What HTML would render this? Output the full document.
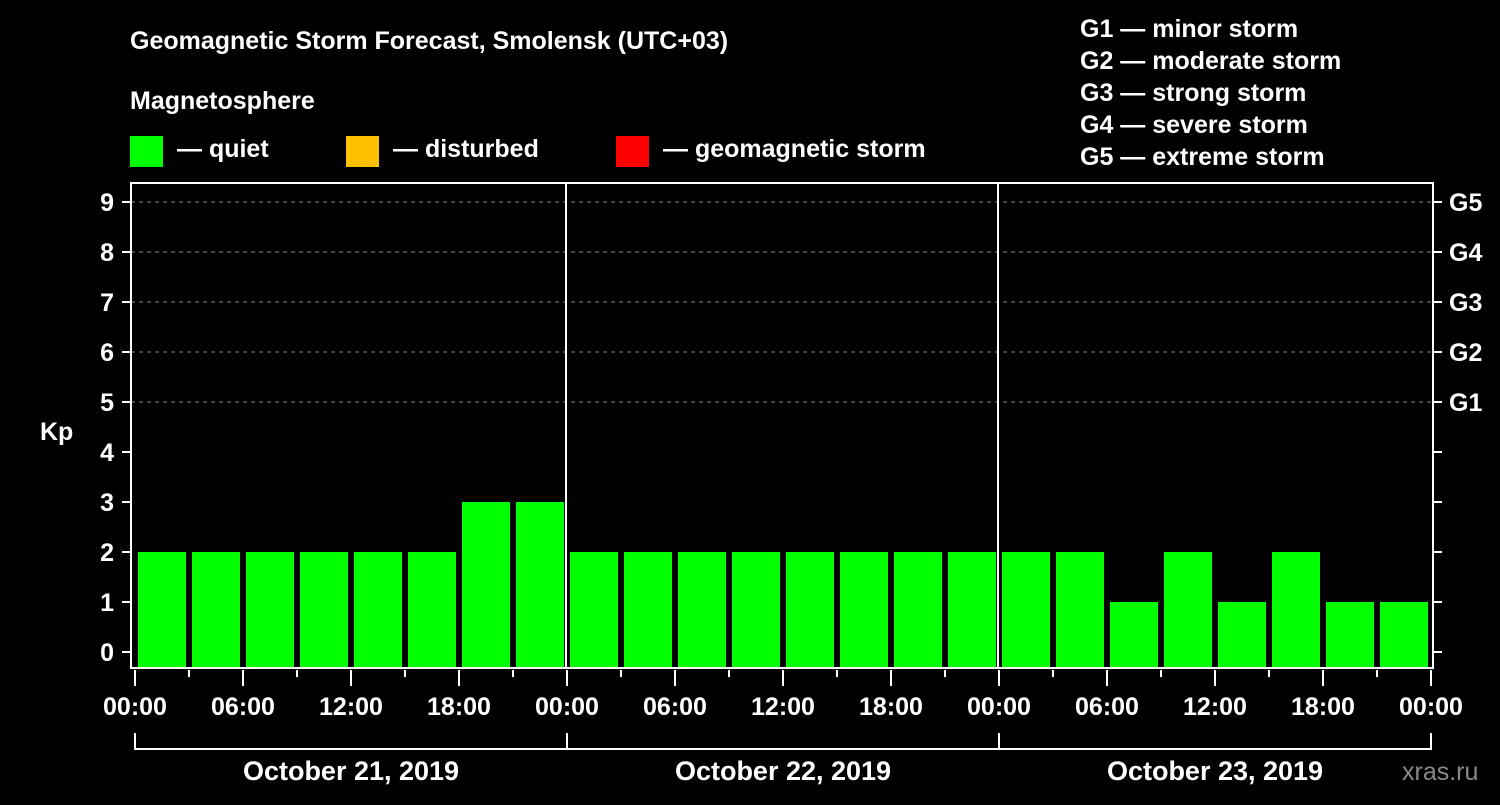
<!DOCTYPE html>
<html><head><meta charset="utf-8"><style>
body{margin:0;background:#000;}
svg text{font-family:"Liberation Sans",Arial,sans-serif;font-weight:bold;fill:#fff;}
</style></head><body>
<svg width="1500" height="800" xmlns="http://www.w3.org/2000/svg">
<rect width="1500" height="800" fill="#000"/>
<text x="130" y="49" font-size="25">Geomagnetic Storm Forecast, Smolensk (UTC+03)</text>
<text x="130" y="109" font-size="25">Magnetosphere</text>
<g><rect x="130" y="136" width="33" height="31" fill="#00ff00"/><text x="177" y="157" font-size="25">— quiet</text></g>
<g><rect x="346" y="136" width="33" height="31" fill="#ffc000"/><text x="393" y="157" font-size="25">— disturbed</text></g>
<g><rect x="616" y="136" width="33" height="31" fill="#ff0000"/><text x="663" y="157" font-size="25">— geomagnetic storm</text></g>
<g font-size="25">
<text x="1080" y="37">G1 — minor storm</text>
<text x="1080" y="69">G2 — moderate storm</text>
<text x="1080" y="101">G3 — strong storm</text>
<text x="1080" y="133">G4 — severe storm</text>
<text x="1080" y="165">G5 — extreme storm</text>
</g>
<text x="40" y="440" font-size="25">Kp</text>
<g id="grid"></g>
<g id="bars"></g>
<rect x="131" y="183" width="1302" height="485" fill="none" stroke="#fff" stroke-width="2"/>
<g id="axes"></g>
<text x="1402" y="780" font-size="25" fill="#888" style="fill:#8a8a8a;font-weight:normal">xras.ru</text>
</svg>
<script>
const kpValues=[2,2,2,2,2,2,3,3, 2,2,2,2,2,2,2,2, 2,2,1,2,1,2,1,1];
const dayLabels=["October 21, 2019","October 22, 2019","October 23, 2019"];
const timeLabels=["00:00","06:00","12:00","18:00"];
const gLabels=["G1","G2","G3","G4","G5"];
const NS="http://www.w3.org/2000/svg";
const x0=135, slot=54, y0=652, unit=50, bottom=668;
const X=i=>x0+i*slot;
const Y=v=>y0-v*unit;
function mk(t,a,p){const e=document.createElementNS(NS,t);for(const k in a)e.setAttribute(k,a[k]);p.appendChild(e);return e;}
const grid=document.getElementById('grid'),bars=document.getElementById('bars'),axes=document.getElementById('axes');
for(let v=5;v<=9;v++){const l=mk('line',{x1:131,x2:1433,y1:Y(v),y2:Y(v),stroke:'#888','stroke-dasharray':'4,4','stroke-width':1},grid);

}
kpValues.forEach((v,i)=>{const c=v>=5?'#ff0000':(v>=4?'#ffc000':'#00ff00');
const r=mk('rect',{x:X(i)+3,y:Y(v),width:slot-6,height:bottom-Y(v),fill:c},bars);

});
for(let d=1;d<3;d++){const l=mk('line',{x1:X(d*8)-1,x2:X(d*8)-1,y1:183,y2:668,stroke:'#fff','stroke-width':2},axes);

}
for(let v=0;v<=9;v++){mk('line',{x1:122,x2:131,y1:Y(v),y2:Y(v),stroke:'#fff','stroke-width':2},axes);
mk('line',{x1:1433,x2:1442,y1:Y(v),y2:Y(v),stroke:'#fff','stroke-width':2},axes);
const t=mk('text',{x:114,y:Y(v)+9,'font-size':25,'text-anchor':'end'},axes);t.textContent=v;

}
gLabels.forEach((g,i)=>{const t=mk('text',{x:1449,y:Y(i+5)+9,'font-size':25},axes);t.textContent=g;

});
for(let i=0;i<=24;i++){const maj=i%2===0;mk('line',{x1:X(i),x2:X(i),y1:670,y2:maj?686:677,stroke:'#fff','stroke-width':2},axes);
if(maj){const t=mk('text',{x:X(i),y:715,'font-size':25,'text-anchor':'middle'},axes);t.textContent=i===24?timeLabels[0]:timeLabels[(i/2)%4];

}}
mk('path',{d:`M${X(0)},733V749H${X(24)}V733M${X(8)},733V749M${X(16)},733V749`,stroke:'#fff','stroke-width':2,fill:'none'},axes);
dayLabels.forEach((d,i)=>{const t=mk('text',{x:X(i*8+4),y:780,'font-size':27,'text-anchor':'middle'},axes);t.textContent=d;

});
</script>
</body></html>
